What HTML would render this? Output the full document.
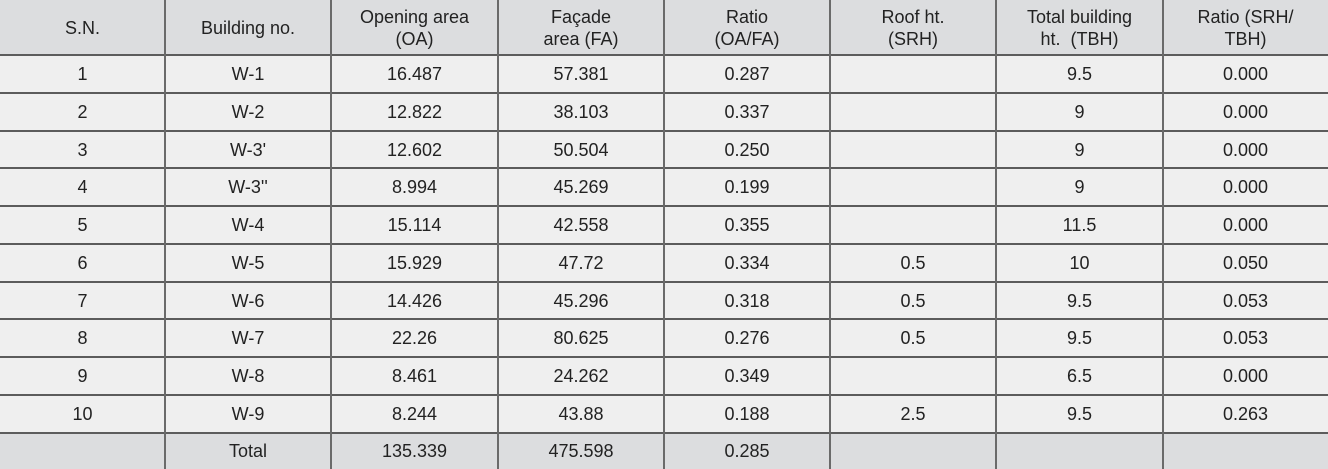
<!DOCTYPE html>
<html><head><meta charset="utf-8"><style>
html,body{margin:0;padding:0;width:1328px;height:469px;overflow:hidden;background:#efefef;}
.wrap{position:relative;width:1328px;height:469px;font-family:"Liberation Sans",Arial,sans-serif;font-size:18px;color:#222;}
.bg{position:absolute;left:0;width:1328px;}
.c{position:absolute;display:flex;align-items:center;justify-content:center;text-align:center;line-height:22px;white-space:nowrap;}
.h{position:absolute;left:0;width:1328px;height:2px;background:#5c5c5c;}
.v{position:absolute;top:0;height:469px;width:2px;background:#6a6a6a;}
</style></head><body><div class="wrap">
<div class="bg" style="top:0;height:55px;background:#dcdddf"></div>
<div class="bg" style="top:433px;height:36px;background:#dcdddf"></div>

<div class="h" style="top:54px"></div>
<div class="h" style="top:92px"></div>
<div class="h" style="top:130px"></div>
<div class="h" style="top:167px"></div>
<div class="h" style="top:205px"></div>
<div class="h" style="top:243px"></div>
<div class="h" style="top:281px"></div>
<div class="h" style="top:318px"></div>
<div class="h" style="top:356px"></div>
<div class="h" style="top:394px"></div>
<div class="h" style="top:432px"></div>

<div class="v" style="left:164px"></div>
<div class="v" style="left:330px"></div>
<div class="v" style="left:497px"></div>
<div class="v" style="left:663px"></div>
<div class="v" style="left:829px"></div>
<div class="v" style="left:995px"></div>
<div class="v" style="left:1162px"></div>

<div id="cells"></div>
<script>
var xs=[0,165,331,498,664,830,996,1163,1328];
var ys=[0,55,93,131,168,206,244,282,319,357,395,433,469];
var rows=[
["S.N.","Building no.","Opening area<br>(OA)","Fa&ccedil;ade<br>area (FA)","Ratio<br>(OA/FA)","Roof ht.<br>(SRH)","Total building<br>ht.&nbsp; (TBH)","Ratio (SRH/<br>TBH)"],
["1","W-1","16.487","57.381","0.287","","9.5","0.000"],
["2","W-2","12.822","38.103","0.337","","9","0.000"],
["3","W-3'","12.602","50.504","0.250","","9","0.000"],
["4","W-3''","8.994","45.269","0.199","","9","0.000"],
["5","W-4","15.114","42.558","0.355","","11.5","0.000"],
["6","W-5","15.929","47.72","0.334","0.5","10","0.050"],
["7","W-6","14.426","45.296","0.318","0.5","9.5","0.053"],
["8","W-7","22.26","80.625","0.276","0.5","9.5","0.053"],
["9","W-8","8.461","24.262","0.349","","6.5","0.000"],
["10","W-9","8.244","43.88","0.188","2.5","9.5","0.263"],
["","Total","135.339","475.598","0.285","","",""]
];
var h="";
for(var r=0;r<rows.length;r++){for(var c=0;c<8;c++){
var t=rows[r][c]; if(!t)continue;
h+='<div class="c" style="left:'+xs[c]+'px;width:'+(xs[c+1]-xs[c])+'px;top:'+ys[r]+'px;height:'+(ys[r+1]-ys[r])+'px">'+t+'</div>';
}}
document.getElementById("cells").innerHTML=h;
</script>
</div></body></html>
